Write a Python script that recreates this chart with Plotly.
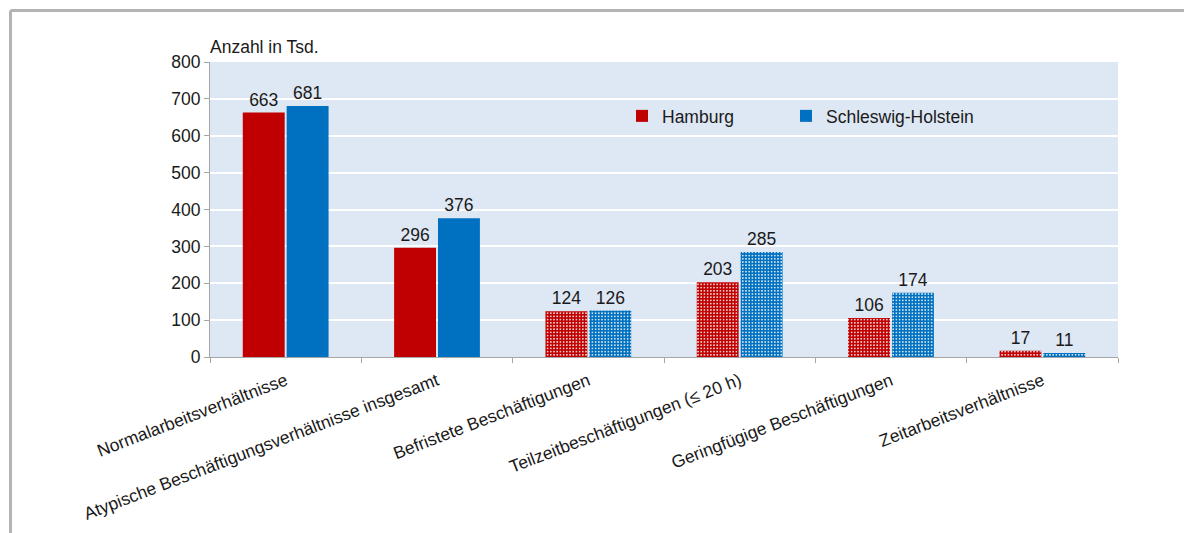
import plotly.graph_objects as go

categories = [
    "Normalarbeitsverhältnisse",
    "Atypische Beschäftigungsverhältnisse insgesamt",
    "Befristete Beschäftigungen",
    "Teilzeitbeschäftigungen (≤ 20 h)",
    "Geringfügige Beschäftigungen",
    "Zeitarbeitsverhältnisse",
]
hamburg = [663, 296, 124, 203, 106, 17]
schleswig_holstein = [681, 376, 126, 285, 174, 11]
patterned = [False, False, True, True, True, True]
y_ticks = [0, 100, 200, 300, 400, 500, 600, 700, 800]

RED = "#c00000"
BLUE = "#0070c0"
FONT = "Liberation Sans, Arial, sans-serif"
FS = 17.5
TXT = "#1a1a1a"

def pattern_for(color):
    return dict(
        shape=["." if p else "" for p in patterned],
        fgcolor="white",
        bgcolor=color,
        size=3.2,
        solidity=0.22,
        fillmode="replace",
    )

fig = go.Figure()
series = [("Hamburg", hamburg, RED, "legend"), ("Schleswig-Holstein", schleswig_holstein, BLUE, "legend2")]
for name, vals, col, leg in series:
    fig.add_trace(go.Bar(
        x=categories, y=vals, name=name, legend=leg,
        marker=dict(color=col, line=dict(width=0), pattern=pattern_for(col)),
        text=[str(v) for v in vals], textposition="outside",
        textfont=dict(family=FONT, size=FS, color=TXT),
        cliponaxis=False,
    ))

# page offset (browser body margin)
OFF = 8
W, H = 1192, 533
PL, PR, PT, PB = 210, 1118, 62, 357  # plot area in reference pixels
L, R, T, B = PL - OFF, W - (PR - OFF), PT - OFF, H - (PB - OFF)
pw, ph = W - L - R, H - T - B

def px(x):
    return (x - OFF - L) / pw

def py(y):
    return (H - B - (y - OFF)) / ph

legend_common = dict(
    orientation="h", xanchor="left", yanchor="middle",
    bgcolor="rgba(0,0,0,0)", font=dict(size=FS, family=FONT, color=TXT),
    itemwidth=30,
)

fig.update_layout(
    width=W, height=H,
    margin=dict(l=L, r=R, t=T, b=B),
    paper_bgcolor="white",
    plot_bgcolor="#dee7f4",
    barmode="group", bargap=0.42, bargroupgap=0.045,
    font=dict(family=FONT, size=FS, color=TXT),
    showlegend=True,
    legend=dict(x=px(622), y=py(116), **legend_common),
    legend2=dict(x=px(786), y=py(116), **legend_common),
    xaxis=dict(
        type="category", tickangle=-21, tickson="boundaries",
        ticks="outside", ticklen=5, tickcolor="#a6a6a6",
        showline=True, linecolor="#a6a6a6", linewidth=1,
        showgrid=False, tickfont=dict(size=FS, family=FONT, color=TXT),
        ticklabelstandoff=6,
    ),
    yaxis=dict(
        range=[0, 800], tickvals=y_ticks, ticks="outside", ticklen=5,
        tickcolor="#a6a6a6", showline=True, linecolor="#a6a6a6", linewidth=1,
        gridcolor="white", gridwidth=1.5, zeroline=False,
        tickfont=dict(size=FS, family=FONT, color=TXT),
    ),
    annotations=[dict(
        text="Anzahl in Tsd.", xref="paper", yref="paper",
        x=px(208), y=py(47), xanchor="left", yanchor="middle", showarrow=False,
        font=dict(size=FS, family=FONT, color=TXT),
    )],
    shapes=[
        dict(type="line", xref="paper", yref="paper", x0=px(10.5), x1=px(1260),
             y0=py(10.5), y1=py(10.5), line=dict(color="#b3b3b3", width=3)),
        dict(type="line", xref="paper", yref="paper", x0=px(10.5), x1=px(10.5),
             y0=py(10.5), y1=py(600), line=dict(color="#b3b3b3", width=3)),
    ],
)

fig.write_html("out.html")
